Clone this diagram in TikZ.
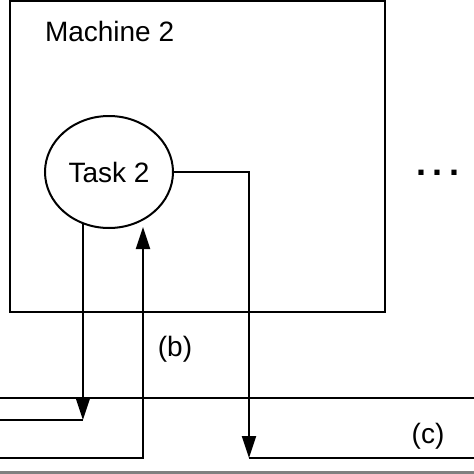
\documentclass[tikz,border=0pt]{standalone}
\usepackage{fontspec}
\setmainfont{Liberation Sans}
\usetikzlibrary{positioning}
\usetikzlibrary{arrows.meta,shapes.geometric}

\begin{document}
\begin{tikzpicture}[x=1pt,y=-1pt,line width=2pt,
    base/.style={draw,line width=2pt,inner sep=0pt,outer sep=0pt},
    tip/.style={-{Triangle[length=22pt,width=14pt]}},
    lbl/.style={font=\fontsize{28}{34}\selectfont,inner sep=0pt}]
    \useasboundingbox (0,0) rectangle (474,474);
    %
    \node[base,minimum width=375pt,minimum height=311pt,anchor=north west](machine) at (10,1) {};
    \node[lbl,below right=19pt and 34pt of machine.north west](mname){Machine 2};
    %
    \node[base,ellipse,lbl,minimum width=128pt,minimum height=112pt](task) at (109,172) {Task 2};
    \node[lbl,font=\bfseries\fontsize{36}{40}\selectfont](more) at (438,173) {.\hspace{6.5pt}.\hspace{6.5pt}.};
    %
    \node[lbl](b) at (175,349) {(b)};
    \node[lbl](c) at (428,436) {(c)};
    %
    \coordinate (busL) at (0,398);
    \coordinate (busR) at (474,398);
    \draw (busL) -- (busR);
    %
    \coordinate (aL) at (0,420);
    \draw[tip] (task.243) -- (task.243 |- aL);
    \draw (aL) -- (task.243 |- aL);
    %
    \coordinate (bL) at (0,458);
    \coordinate (bTop) at (143,227);
    \draw[tip] (bL) -| (bTop);
    %
    \coordinate (cTurn) at (249,172);
    \coordinate (cR) at (474,458);
    \draw[tip] (task.east) -- (cTurn) -- (cTurn |- cR);
    \draw (cTurn |- cR) -- (cR);
    %
    \draw[gray,line width=2.5pt] (0,472.7) -- (474,472.7);
\end{tikzpicture}
\end{document}
